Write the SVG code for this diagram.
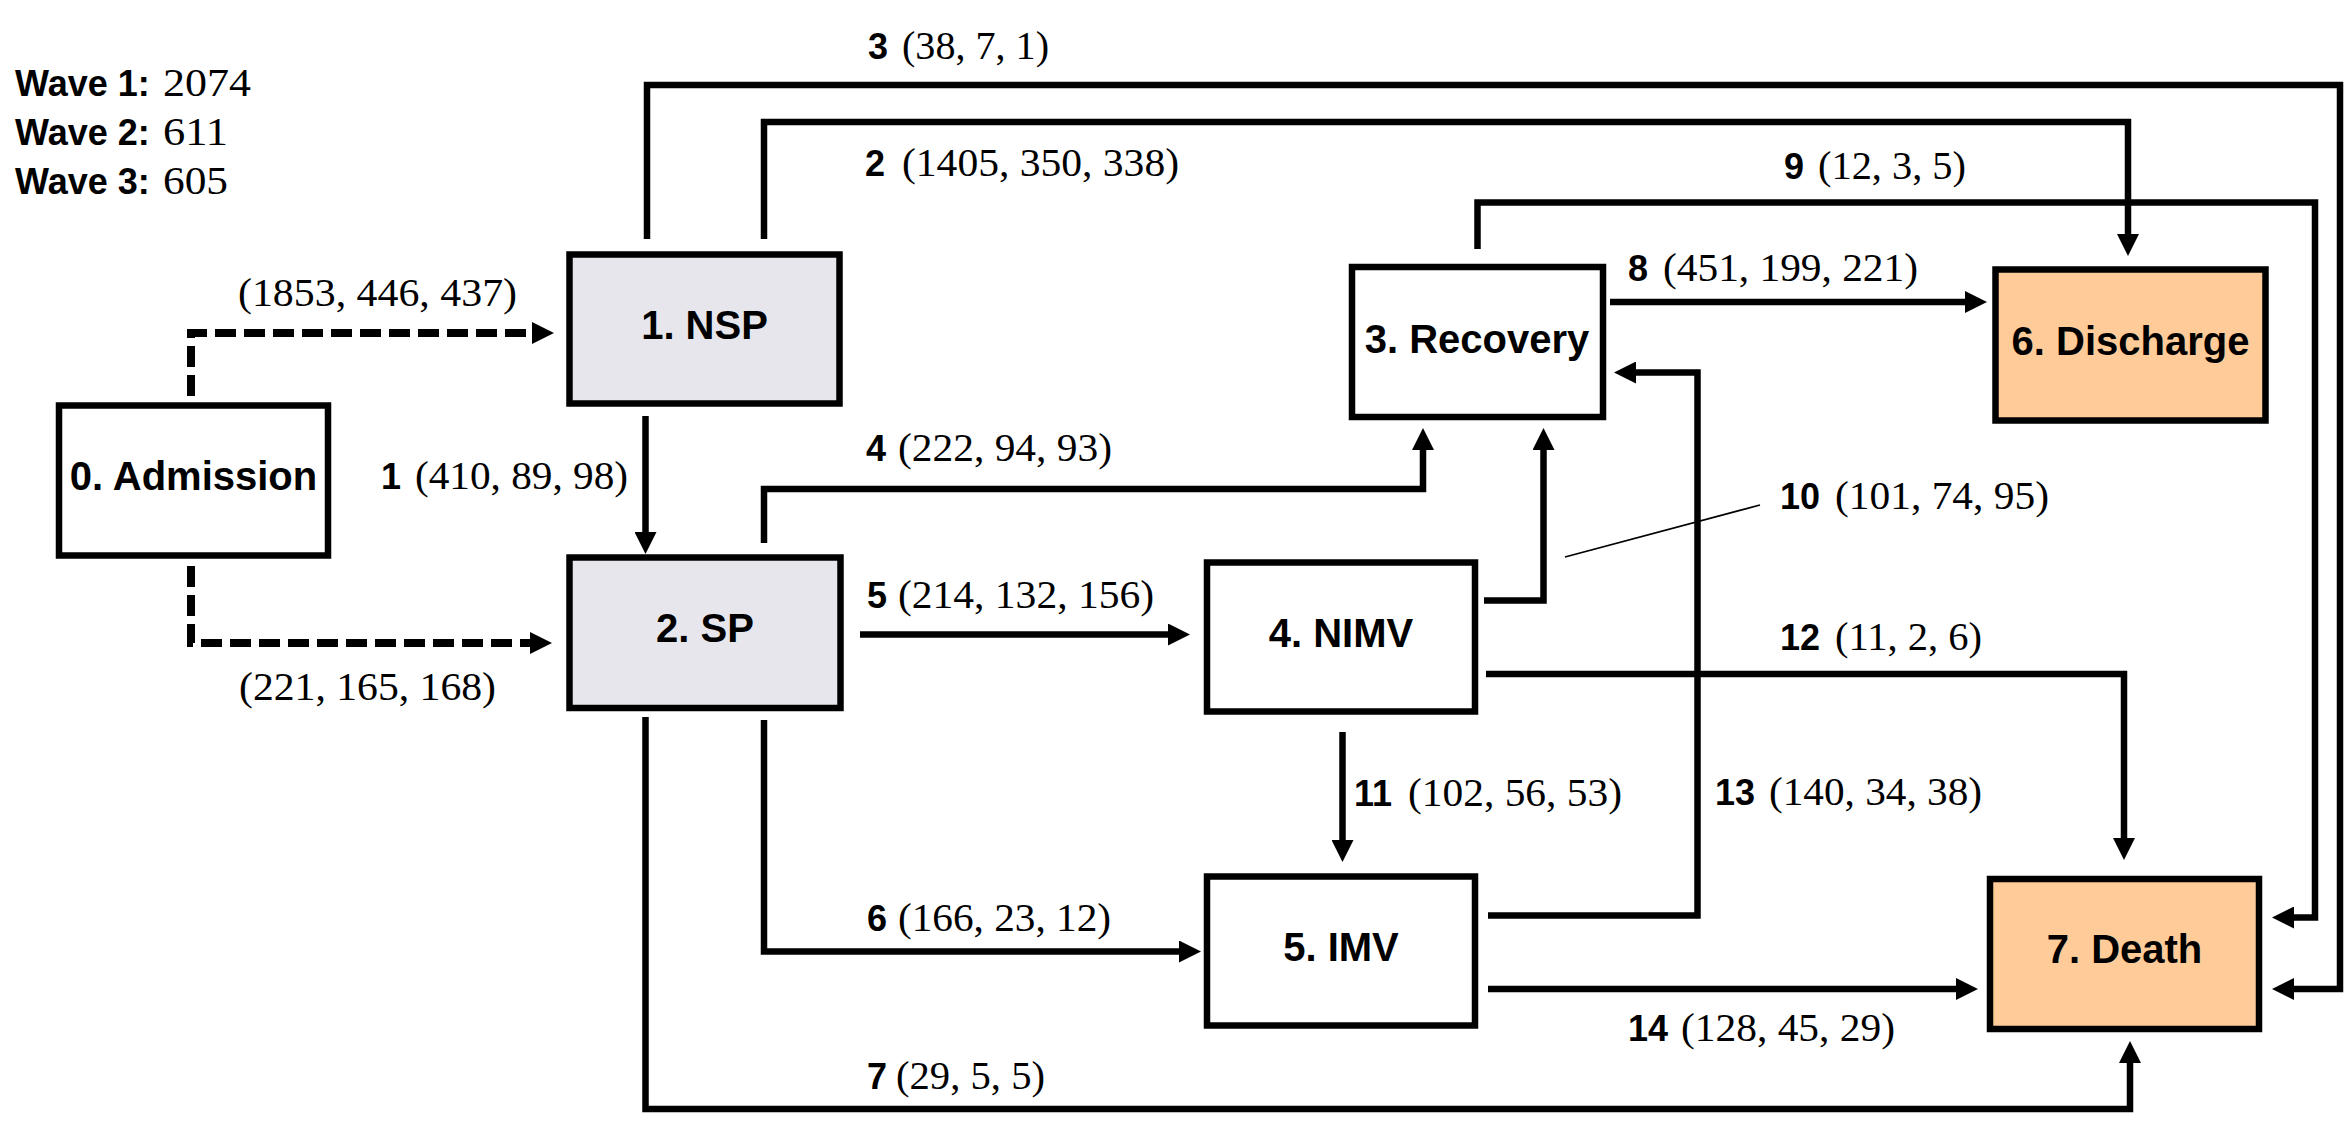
<svg xmlns="http://www.w3.org/2000/svg" width="2349" height="1123" viewBox="0 0 2349 1123">
<style>
.box{stroke:#000;stroke-width:6.5;}
.plain{fill:#fff;}
.grey{fill:#E7E6EC;}
.peach{fill:#FFCC99;}
.nl{font-family:"Liberation Sans",Arial,sans-serif;font-weight:bold;font-size:40px;fill:#000;text-anchor:middle;}
.bn{font-family:"Liberation Sans",Arial,sans-serif;font-weight:bold;font-size:36px;fill:#000;}
.sn{font-family:"Liberation Serif","Times New Roman",serif;font-size:40px;fill:#000;}
.c{fill:none;stroke:#000;stroke-width:6.5;stroke-linejoin:miter;stroke-linecap:butt;}
.d{fill:none;stroke:#000;stroke-width:8;stroke-dasharray:21 8;}
.lead{fill:none;stroke:#000;stroke-width:1.8;}
</style>
<defs>
<marker id="ah" markerUnits="userSpaceOnUse" markerWidth="22" markerHeight="22" refX="0" refY="11" orient="auto" viewBox="0 0 22 22"><path d="M0,0 L22,11 L0,22 z" fill="#000"/></marker>
</defs>
<rect width="2349" height="1123" fill="#fff"/>

<g id="legend">
<text class="bn" x="15" y="96">Wave 1:</text><text class="sn" x="163" y="96" textLength="88" lengthAdjust="spacingAndGlyphs">2074</text>
<text class="bn" x="15" y="145">Wave 2:</text><text class="sn" x="163" y="145" textLength="65" lengthAdjust="spacingAndGlyphs">611</text>
<text class="bn" x="15" y="194">Wave 3:</text><text class="sn" x="163" y="194" textLength="65" lengthAdjust="spacingAndGlyphs">605</text>
</g>

<g id="connectors">
<g id="e-adm-nsp"><path class="d" d="M191,396 V333 H532" marker-end="url(#ah)"/><text class="sn" x="238" y="306" textLength="279" lengthAdjust="spacingAndGlyphs">(1853, 446, 437)</text></g>
<g id="e-adm-sp"><path class="d" d="M191,566 V643 H530" marker-end="url(#ah)"/><text class="sn" x="239" y="700" textLength="257" lengthAdjust="spacingAndGlyphs">(221, 165, 168)</text></g>
<g id="e1"><path class="c" d="M645.5,416 V532" marker-end="url(#ah)"/><text class="bn" x="381" y="489">1</text><text class="sn" x="415" y="489" textLength="213" lengthAdjust="spacingAndGlyphs">(410, 89, 98)</text></g>
<g id="e2"><path class="c" d="M764,239 V122 H2128 V234" marker-end="url(#ah)"/><text class="bn" x="865" y="176">2</text><text class="sn" x="902" y="176" textLength="277" lengthAdjust="spacingAndGlyphs">(1405, 350, 338)</text></g>
<g id="e3"><path class="c" d="M647,239 V85 H2340 V989 H2294" marker-end="url(#ah)"/><text class="bn" x="868" y="59">3</text><text class="sn" x="902" y="59" textLength="147" lengthAdjust="spacingAndGlyphs">(38, 7, 1)</text></g>
<g id="e4"><path class="c" d="M764,543 V489 H1423 V450" marker-end="url(#ah)"/><text class="bn" x="866" y="461">4</text><text class="sn" x="898" y="461" textLength="214" lengthAdjust="spacingAndGlyphs">(222, 94, 93)</text></g>
<g id="e5"><path class="c" d="M860,634.5 H1168" marker-end="url(#ah)"/><text class="bn" x="867" y="608">5</text><text class="sn" x="898" y="608" textLength="256" lengthAdjust="spacingAndGlyphs">(214, 132, 156)</text></g>
<g id="e6"><path class="c" d="M764,720 V951.5 H1179" marker-end="url(#ah)"/><text class="bn" x="867" y="931">6</text><text class="sn" x="898" y="931" textLength="213" lengthAdjust="spacingAndGlyphs">(166, 23, 12)</text></g>
<g id="e7"><path class="c" d="M645.5,717 V1109 H2130 V1063" marker-end="url(#ah)"/><text class="bn" x="867" y="1089">7</text><text class="sn" x="896" y="1089" textLength="149" lengthAdjust="spacingAndGlyphs">(29, 5, 5)</text></g>
<g id="e8"><path class="c" d="M1610,302 H1965" marker-end="url(#ah)"/><text class="bn" x="1628" y="281">8</text><text class="sn" x="1663" y="281" textLength="255" lengthAdjust="spacingAndGlyphs">(451, 199, 221)</text></g>
<g id="e9"><path class="c" d="M1477.5,249 V202.5 H2315 V917.5 H2294" marker-end="url(#ah)"/><text class="bn" x="1784" y="179">9</text><text class="sn" x="1818" y="179" textLength="148" lengthAdjust="spacingAndGlyphs">(12, 3, 5)</text></g>
<g id="e10"><path class="c" d="M1484,600.5 H1543.5 V450" marker-end="url(#ah)"/><path class="lead" d="M1565,557 L1760,505"/><text class="bn" x="1780" y="509">10</text><text class="sn" x="1835" y="509" textLength="214" lengthAdjust="spacingAndGlyphs">(101, 74, 95)</text></g>
<g id="e11"><path class="c" d="M1342.5,732 V840" marker-end="url(#ah)"/><text class="bn" x="1354" y="806">11</text><text class="sn" x="1408" y="806" textLength="214" lengthAdjust="spacingAndGlyphs">(102, 56, 53)</text></g>
<g id="e12"><path class="c" d="M1486,674 H2124 V838" marker-end="url(#ah)"/><text class="bn" x="1780" y="650">12</text><text class="sn" x="1835" y="650" textLength="147" lengthAdjust="spacingAndGlyphs">(11, 2, 6)</text></g>
<g id="e13"><path class="c" d="M1488,915.5 H1697.5 V372.5 H1636" marker-end="url(#ah)"/><text class="bn" x="1715" y="805">13</text><text class="sn" x="1769" y="805" textLength="213" lengthAdjust="spacingAndGlyphs">(140, 34, 38)</text></g>
<g id="e14"><path class="c" d="M1488,989 H1956" marker-end="url(#ah)"/><text class="bn" x="1628" y="1041">14</text><text class="sn" x="1681" y="1041" textLength="214" lengthAdjust="spacingAndGlyphs">(128, 45, 29)</text></g>
</g>

<g id="n0"><rect class="box plain" x="59" y="405.5" width="269" height="150"/><text class="nl" x="193.5" y="490">0. Admission</text></g>
<g id="n1"><rect class="box grey" x="569.5" y="254.5" width="270" height="149"/><text class="nl" x="704.5" y="339">1. NSP</text></g>
<g id="n2"><rect class="box grey" x="569.5" y="557.5" width="271" height="150.5"/><text class="nl" x="705" y="642">2. SP</text></g>
<g id="n3"><rect class="box plain" x="1352" y="267" width="251" height="150"/><text class="nl" x="1477" y="353">3. Recovery</text></g>
<g id="n4"><rect class="box plain" x="1207" y="562.5" width="268" height="149"/><text class="nl" x="1341" y="647">4. NIMV</text></g>
<g id="n5"><rect class="box plain" x="1207" y="876.5" width="268" height="149"/><text class="nl" x="1341" y="961">5. IMV</text></g>
<g id="n6"><rect class="box peach" x="1995.5" y="269.5" width="270" height="151"/><text class="nl" x="2130.5" y="355">6. Discharge</text></g>
<g id="n7"><rect class="box peach" x="1990" y="879" width="269" height="150"/><text class="nl" x="2124.5" y="963">7. Death</text></g>
</svg>
